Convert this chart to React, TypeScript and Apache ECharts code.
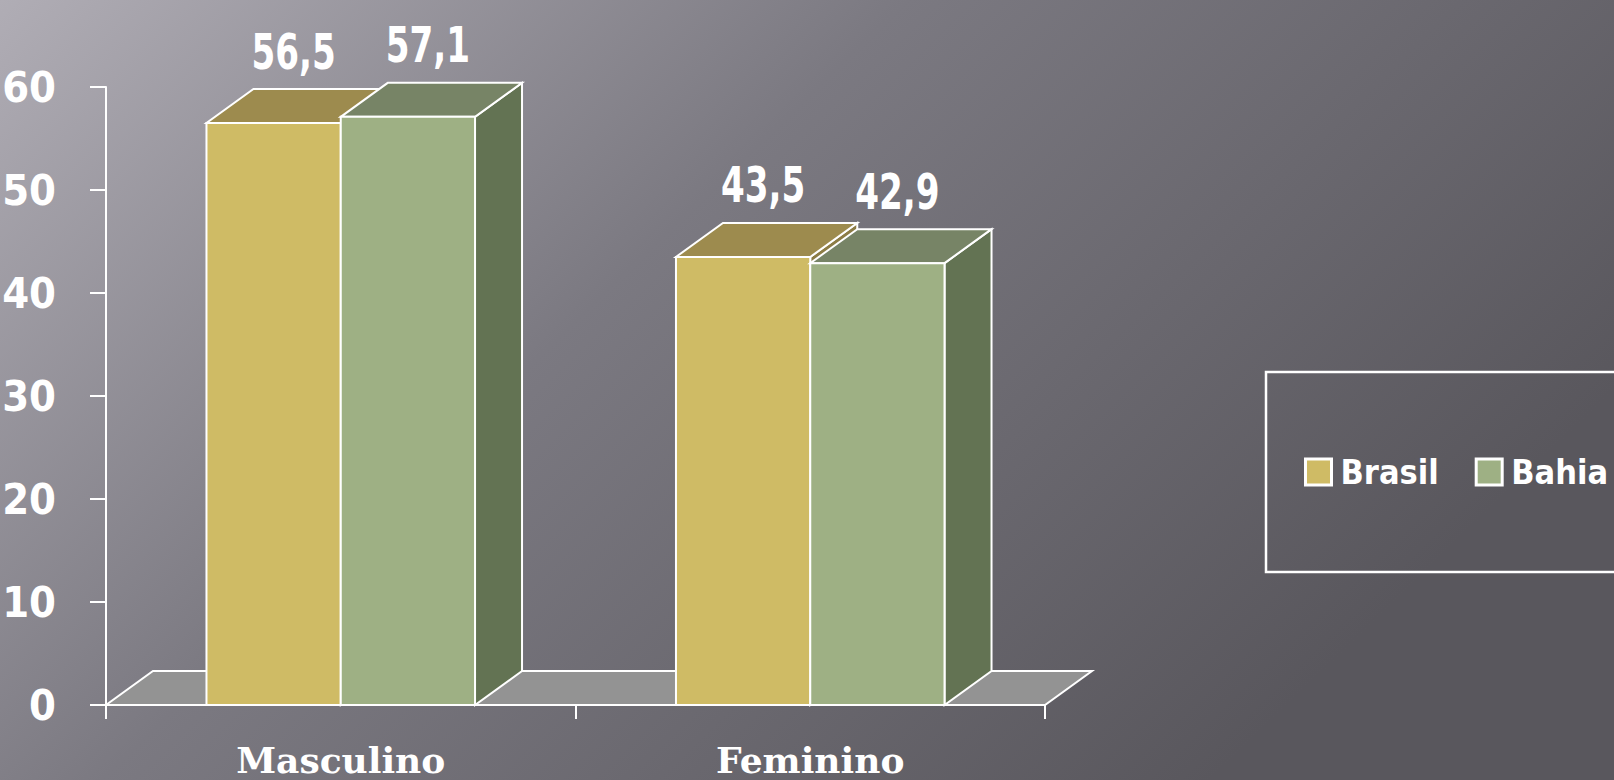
import React, { useEffect, useRef } from "react";
import * as echarts from "echarts";

const categories = ["Masculino", "Feminino"];
const seriesNames = ["Brasil", "Bahia"];
const brasilValues = [56.5, 43.5];
const bahiaValues = [57.1, 42.9];
const yTicks = [0, 10, 20, 30, 40, 50, 60];

const NARROW = "'DejaVu Sans Condensed', 'Liberation Sans Narrow', sans-serif";
const SERIF = "'DejaVu Serif', 'Liberation Serif', serif";

const DX = 47;
const DY = -34;
const BAR_RATIO = 0.286;

const palette = [
  { front: "#cfbb65", top: "#9d8b4e", side: "#8c7c45" },
  { front: "#9eb084", top: "#778466", side: "#637353" },
];

function fmt(v: number) {
  return v.toFixed(1).replace(".", ",");
}

function makeBarRender(idx: number) {
  const c = palette[idx];
  return (params: any, api: any) => {
    const cat = api.value(0);
    const val = api.value(1);
    const top = api.coord([cat, val]);
    const base = api.coord([cat, 0]);
    const band = api.size([1, 0])[0];
    const bw = band * BAR_RATIO;
    const x0 = idx === 0 ? top[0] - bw : top[0];
    const x1 = x0 + bw;
    const ty = top[1];
    const by = base[1];
    const stroke = { stroke: "#ffffff", lineWidth: 2 };
    return {
      type: "group",
      children: [
        {
          type: "polygon",
          shape: { points: [[x1, ty], [x1 + DX, ty + DY], [x1 + DX, by + DY], [x1, by]] },
          style: { fill: c.side, ...stroke },
        },
        {
          type: "polygon",
          shape: { points: [[x0, ty], [x1, ty], [x1 + DX, ty + DY], [x0 + DX, ty + DY]] },
          style: { fill: c.top, ...stroke },
        },
        {
          type: "rect",
          shape: { x: x0, y: ty, width: bw, height: by - ty },
          style: { fill: c.front, ...stroke },
        },
        {
          type: "text",
          x: (x0 + x1) / 2 + 20,
          y: ty - 72,
          scaleX: 0.76,
          style: {
            text: fmt(val),
            fill: "#ffffff",
            font: `bold 50px ${NARROW}`,
            align: "center",
            verticalAlign: "middle",
          },
        },
      ],
    };
  };
}

function floorRender(params: any, api: any) {
  const cs = params.coordSys;
  const left = cs.x;
  const right = cs.x + cs.width;
  const fy = cs.y + cs.height;
  return {
    type: "polygon",
    shape: { points: [[left, fy], [right, fy], [right + DX, fy + DY], [left + DX, fy + DY]] },
    style: { fill: "#939393", stroke: "#ffffff", lineWidth: 2 },
  };
}

export default function App() {
  const ref = useRef<HTMLDivElement>(null);
  useEffect(() => {
    if (!ref.current) return;
    const chart = echarts.init(ref.current, null, { renderer: "svg" });
    chart.setOption({
      animation: false,
      backgroundColor: new echarts.graphic.LinearGradient(0, 0, 1, 0.5, [
        { offset: 0, color: "#b0adb5" },
        { offset: 0.45, color: "#7b7981" },
        { offset: 1, color: "#59575d" },
      ]),
      grid: {
        left: 106,
        right: 569,
        top: 87,
        bottom: 75,
        containLabel: false,
        outerBoundsMode: "none",
      },
      legend: {
        data: seriesNames,
        left: 1266,
        top: 372,
        width: 520,
        orient: "horizontal",
        padding: [83, 40, 83, 38],
        borderColor: "#ffffff",
        borderWidth: 2.5,
        itemGap: 36,
        itemWidth: 26,
        itemHeight: 26,
        icon: "rect",
        itemStyle: { borderColor: "#ffffff", borderWidth: 3 },
        textStyle: {
          color: "#ffffff",
          fontSize: 34,
          fontWeight: "bold",
          fontFamily: NARROW,
          padding: [0, 0, 0, 4],
        },
        selectedMode: false,
      },
      xAxis: {
        type: "category",
        data: categories,
        boundaryGap: true,
        axisLine: { show: true, lineStyle: { color: "#ffffff", width: 2 } },
        axisTick: { show: true, length: 14, lineStyle: { color: "#ffffff", width: 2 } },
        axisLabel: {
          color: "#ffffff",
          fontFamily: SERIF,
          fontWeight: "bold",
          fontSize: 36,
          lineHeight: 36,
          margin: 37,
        },
        splitLine: { show: false },
      },
      yAxis: {
        type: "value",
        min: yTicks[0],
        max: yTicks[yTicks.length - 1],
        interval: 10,
        axisLine: { show: true, lineStyle: { color: "#ffffff", width: 2 } },
        axisTick: { show: true, length: 16, lineStyle: { color: "#ffffff", width: 2 } },
        axisLabel: {
          color: "#ffffff",
          fontFamily: NARROW,
          fontWeight: "bold",
          fontSize: 43,
          margin: 50,
        },
        splitLine: { show: false },
      },
      series: [
        {
          type: "custom",
          name: "floor",
          renderItem: floorRender,
          data: [[0, 0]],
          clip: false,
          z: 1,
          silent: true,
        },
        {
          type: "custom",
          name: seriesNames[0],
          renderItem: makeBarRender(0),
          itemStyle: { color: palette[0].front },
          data: brasilValues.map((v, i) => [i, v]),
          clip: false,
          z: 2,
        },
        {
          type: "custom",
          name: seriesNames[1],
          renderItem: makeBarRender(1),
          itemStyle: { color: palette[1].front },
          data: bahiaValues.map((v, i) => [i, v]),
          clip: false,
          z: 3,
        },
      ],
    });
    return () => chart.dispose();
  }, []);
  return (
    <div
      ref={ref}
      style={{ position: "fixed", left: 0, top: 0, width: 1614, height: 780 }}
    />
  );
}
